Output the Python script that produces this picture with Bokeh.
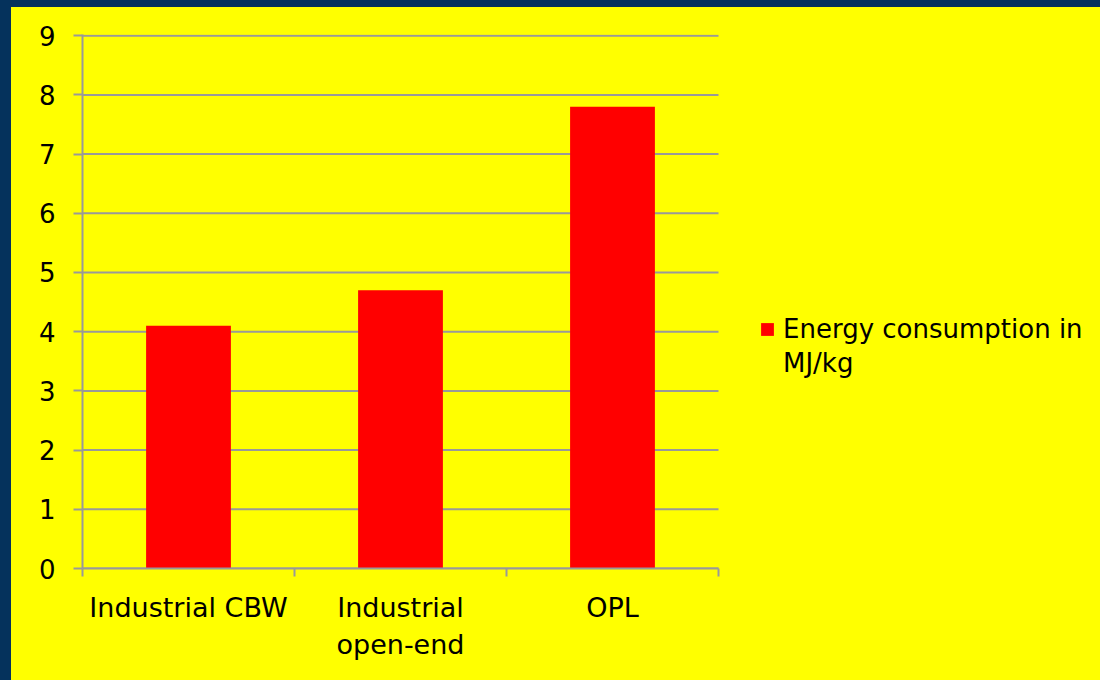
from bokeh.plotting import figure
from bokeh.models import (Range1d, FixedTicker, Legend, LegendItem,
                          GlobalInlineStyleSheet, InlineStyleSheet, ColumnDataSource)
from bokeh.embed import file_html
from bokeh.resources import INLINE

# ---- data ----
categories = ["Industrial CBW", "Industrial\nopen-end", "OPL"]
energy = [4.1, 4.7, 7.8]
y_ticks = [0, 1, 2, 3, 4, 5, 6, 7, 8, 9]
series_lines = ["Energy consumption in", "MJ/kg"]   # legend label, wrapped

FONT = "DejaVu Sans"
GRAY = "#999999"
YELLOW = "#ffff00"
NAVY = "#05325c"

n = len(categories)
# plot frame spans the chart plus the legend area; the chart itself uses x in [0, n]
CHART_PX, FRAME_PX = 636, 1010

p = figure(width=1081, height=665,
           x_range=Range1d(0, n * FRAME_PX / CHART_PX), y_range=Range1d(0, 9.02),
           output_backend="svg", toolbar_location=None,
           min_border_left=71, min_border_right=0,
           min_border_top=27, min_border_bottom=104,
           background_fill_color=YELLOW, border_fill_color=YELLOW,
           outline_line_color=None)

p.stylesheets = [
    GlobalInlineStyleSheet(css=(
        f"html {{ background: linear-gradient(to right, {NAVY} 11px, transparent 11px), "
        f"linear-gradient(to bottom, {NAVY} 7px, {YELLOW} 7px); overflow: hidden; }} "
        f"body {{ background: transparent; overflow: hidden; }}")),
    InlineStyleSheet(
        css=f":host {{ border-left: 11px solid {NAVY}; border-top: 7px solid {NAVY}; }}"),
]

# horizontal gridlines limited to the chart part of the frame
p.xgrid.visible = False
p.ygrid.visible = False
p.segment(x0=[0] * len(y_ticks), x1=[n] * len(y_ticks), y0=y_ticks, y1=y_ticks,
          line_color=GRAY, line_width=2)

xs = [i + 0.5 for i in range(n)]
src = ColumnDataSource(dict(x=xs, top=energy))
r = p.vbar(x="x", top="top", width=0.4, source=src,
           fill_color="#ff0000", line_color=None)
# invisible companion renderer so the wrapped second legend line has no swatch
r_blank = p.vbar(x=[], top=[], width=0.4, fill_alpha=0, line_alpha=0)

# x axis: labels at centres, tick marks at boundaries
xa = p.xaxis[0]
xa.bounds = (0, n)
xa.ticker = FixedTicker(ticks=xs, minor_ticks=list(range(n + 1)))
xa.major_label_overrides = {x: c for x, c in zip(xs, categories)}
xa.major_tick_line_color = None
xa.major_tick_out = 0
xa.major_tick_in = 0
xa.minor_tick_line_color = GRAY
xa.minor_tick_line_width = 2
xa.minor_tick_out = 8
xa.minor_tick_in = 0
xa.axis_line_color = GRAY
xa.axis_line_width = 2
xa.major_label_text_font = FONT
xa.major_label_text_font_size = "27px"
xa.major_label_text_color = "black"
xa.major_label_standoff = 15

ya = p.yaxis[0]
ya.ticker = FixedTicker(ticks=y_ticks, minor_ticks=[])
ya.major_tick_line_color = GRAY
ya.major_tick_line_width = 2
ya.major_tick_out = 9
ya.major_tick_in = 0
ya.minor_tick_line_color = None
ya.axis_line_color = GRAY
ya.axis_line_width = 2
ya.major_label_text_font = FONT
ya.major_label_text_font_size = "26px"
ya.major_label_text_color = "black"
ya.major_label_standoff = 18

legend = Legend(items=[LegendItem(label=series_lines[0], renderers=[r]),
                       LegendItem(label=series_lines[1], renderers=[r_blank])],
                location=(677, 188),
                glyph_width=16, glyph_height=16, label_height=34,
                label_text_font=FONT, label_text_font_size="26px",
                label_text_color="black", label_standoff=8,
                padding=0, margin=0, spacing=0,
                border_line_color=None, background_fill_alpha=0)
p.add_layout(legend, "center")

open("out.html", "w").write(file_html(p, INLINE))
